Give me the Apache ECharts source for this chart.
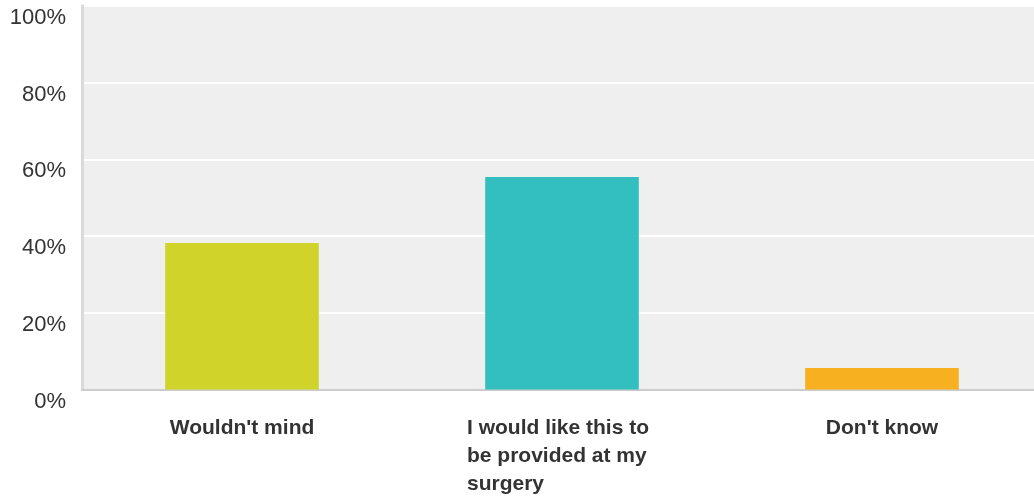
<!DOCTYPE html>
<html><head><meta charset="utf-8">
<script src="https://cdn.jsdelivr.net/npm/echarts@6/dist/echarts.min.js"></script>
<style>html,body{margin:0;padding:0;background:#fff;overflow:hidden}#c{width:1042px;height:496px}</style>
</head><body><div id="c"></div>
<script>
const categories = ["Wouldn't mind", "I would like this to\nbe provided at my\nsurgery", "Don't know"];
const values = [38.2, 55.4, 5.6];
const colors = ['#d0d42a', '#33bec0', '#f7b020'];
const yTicks = [0, 20, 40, 60, 80, 100];

const font = 'Liberation Sans, Arial, sans-serif';
const chart = echarts.init(document.getElementById('c'));
chart.setOption({
  animation: false,
  grid: { left: 82, right: 0, top: 5.75, height: 383.75, show: true, backgroundColor: '#efefef', borderWidth: 0, outerBoundsMode: 'none' },
  xAxis: {
    type: 'category',
    data: categories,
    axisLine: { show: true, lineStyle: { color: '#cccccc', width: 2 } },
    axisTick: { show: false },
    axisLabel: {
      interval: 0, margin: 25,
      fontFamily: font, fontSize: 21, fontWeight: 'bold', color: '#333333', lineHeight: 28,
      formatter: v => v.indexOf('\n') >= 0 ? v.split('\n').map(s => '{b|' + s + '}').join('\n') : v,
      rich: { b: { fontFamily: font, fontSize: 21, fontWeight: 'bold', color: '#333333', lineHeight: 28, width: 190, align: 'left' } }
    }
  },
  yAxis: {
    type: 'value', min: yTicks[0], max: yTicks[yTicks.length - 1], interval: 20,
    axisLine: { show: true, lineStyle: { color: '#dadada', width: 3 } },
    axisTick: { show: false },
    splitLine: { show: true, lineStyle: { color: '#ffffff', width: 2 } },
    axisLabel: { formatter: '{value}%', margin: 16, verticalAlign: 'top', padding: [1, 0, 0, 0], fontFamily: font, fontSize: 22, color: '#333333' }
  },
  series: [{
    type: 'bar', barWidth: '48%',
    data: values.map((v, i) => ({ value: v, itemStyle: { color: colors[i] } }))
  }]
});
</script></body></html>
